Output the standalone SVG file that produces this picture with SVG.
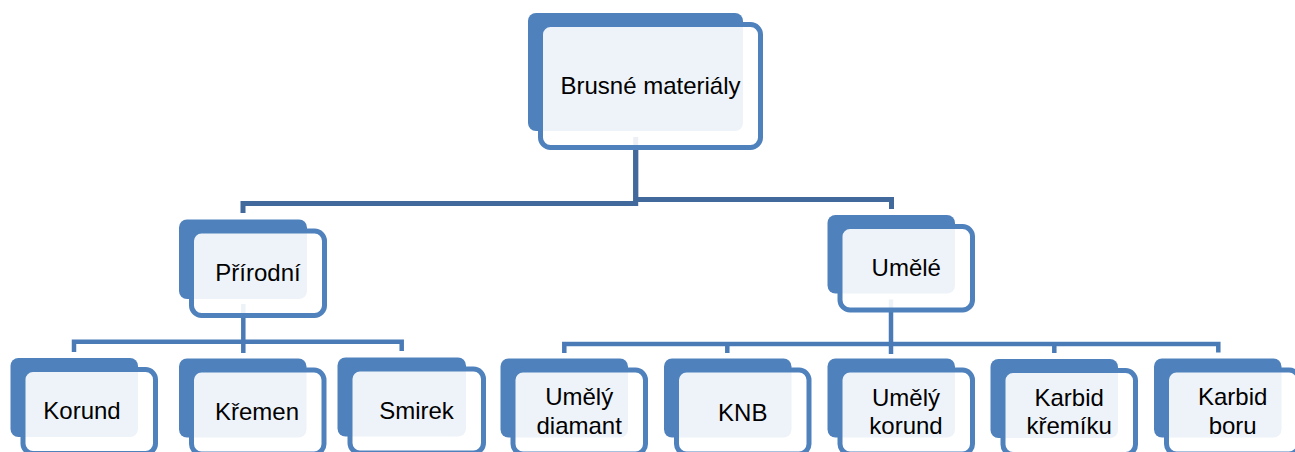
<svg xmlns="http://www.w3.org/2000/svg" width="1295" height="452" viewBox="0 0 1295 452">
<style>
.back{fill:#4F81BD;}
.front{fill:#FFFFFF;fill-opacity:0.9;stroke:#4F81BD;stroke-width:5;}
.lbl{font-family:"Liberation Sans",Arial,sans-serif;font-size:24px;fill:#000;text-anchor:middle;}
.c1{fill:none;stroke:#41699C;stroke-width:5;}
.c2{fill:none;stroke:#4A7BB7;stroke-width:4.5;}
</style>
<rect width="1295" height="452" fill="#FFFFFF"/>
<g id="connectors">
<path class="c1" d="M635.7 137 V203.5 H243 V213"/>
<path class="c1" d="M635.7 150 V199.5 H891.5 V209"/>
<path class="c2" d="M243.3 304 V353"/>
<path class="c2" d="M74 352 V341.7 H401.7 V351"/>
<path class="c2" d="M891 299.5 V354"/>
<path class="c2" d="M564.3 353 V344 H1218.3 V352.5"/>
<path class="c2" d="M727.3 344 V353"/>
<path class="c2" d="M1054.3 344 V353"/>
</g>
<g id="node-root">
<rect class="back" x="528" y="13" width="215" height="118" rx="8"/>
<rect class="front" x="540.5" y="24.5" width="220" height="123" rx="10"/>
<text class="lbl" x="650.5" y="94">Brusné materiály</text>
</g>
<g id="node-prirodni">
<rect class="back" x="179" y="219.5" width="128" height="79.5" rx="8"/>
<rect class="front" x="191.5" y="231" width="133" height="84.5" rx="10"/>
<text class="lbl" x="258" y="280.7">Přírodní</text>
</g>
<g id="node-umele">
<rect class="back" x="827.5" y="215" width="127.5" height="78.5" rx="8"/>
<rect class="front" x="840" y="226.5" width="132.5" height="83.5" rx="10"/>
<text class="lbl" x="906.3" y="276">Umělé</text>
</g>
<g id="node-korund">
<rect class="back" x="10.5" y="358" width="127.5" height="79" rx="8"/>
<rect class="front" x="23" y="369.5" width="132.5" height="84" rx="10"/>
<text class="lbl" x="82" y="418.5">Korund</text>
</g>
<g id="node-kremen">
<rect class="back" x="179" y="358.5" width="127.5" height="79" rx="8"/>
<rect class="front" x="191.5" y="370" width="132.5" height="84" rx="10"/>
<text class="lbl" x="257" y="420">Křemen</text>
</g>
<g id="node-smirek">
<rect class="back" x="337.5" y="357.5" width="128.5" height="79" rx="8"/>
<rect class="front" x="350" y="369" width="133.5" height="84" rx="10"/>
<text class="lbl" x="416.5" y="418.5">Smirek</text>
</g>
<g id="node-umely-diamant">
<rect class="back" x="500.5" y="358.5" width="127.5" height="79" rx="8"/>
<rect class="front" x="513" y="370" width="132.5" height="84" rx="10"/>
<text class="lbl" x="579.2" y="405">Umělý</text>
<text class="lbl" x="579.2" y="434.3">diamant</text>
</g>
<g id="node-knb">
<rect class="back" x="664" y="358.5" width="127.5" height="79" rx="8"/>
<rect class="front" x="676.5" y="370" width="132.5" height="84" rx="10"/>
<text class="lbl" x="742.8" y="420.5">KNB</text>
</g>
<g id="node-umely-korund">
<rect class="back" x="827.5" y="358.5" width="127.5" height="79" rx="8"/>
<rect class="front" x="840" y="370" width="132.5" height="84" rx="10"/>
<text class="lbl" x="906" y="405.5">Umělý</text>
<text class="lbl" x="906" y="434.3">korund</text>
</g>
<g id="node-karbid-kremiku">
<rect class="back" x="990.5" y="359" width="127.5" height="79" rx="8"/>
<rect class="front" x="1003" y="370.5" width="132.5" height="84" rx="10"/>
<text class="lbl" x="1069.2" y="405.5">Karbid</text>
<text class="lbl" x="1069.2" y="434.3">křemíku</text>
</g>
<g id="node-karbid-boru">
<rect class="back" x="1154" y="358.5" width="127.5" height="79" rx="8"/>
<rect class="front" x="1166.5" y="370" width="132.5" height="84" rx="10"/>
<text class="lbl" x="1232.7" y="405">Karbid</text>
<text class="lbl" x="1232.7" y="433.5">boru</text>
</g>
</svg>
